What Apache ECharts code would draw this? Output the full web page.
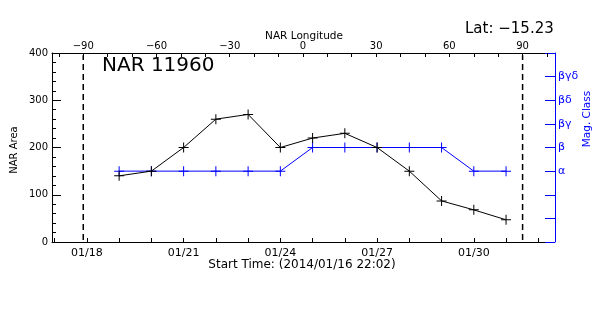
<!DOCTYPE html>
<html><head><meta charset="utf-8">
<script src="https://cdn.jsdelivr.net/npm/echarts@6/dist/echarts.min.js"></script>
<style>html,body{margin:0;padding:0;background:#fff}#c{width:600px;height:315px}</style>
</head><body><div id="c"></div>
<script>
// Observation days (day of January 2014)
const days = [19, 20, 21, 22, 23, 24, 25, 26, 27, 28, 29, 30, 31];
const narArea = [140, 150, 200, 260, 270, 200, 220, 230, 200, 150, 87, 68, 47];
const magClass = ['α','α','α','α','α','α','β','β','β','β','β','α','α'];
const magClassLevels = ['', '', '', 'α', 'β', 'βγ', 'βδ', 'βγδ', ''];
const dateLabelDays = [18, 21, 24, 27, 30];
const dateTickDays = [17, 18, 19, 20, 21, 22, 23, 24, 25, 26, 27, 28, 29, 30, 31, 32];
const lonTicks = [-100, -90, -80, -70, -60, -50, -40, -30, -20, -10, 0, 10, 20, 30, 40, 50, 60, 70, 80, 90, 100];
const lonLabels = [-90, -60, -30, 0, 30, 60, 90];
const limbLongitudes = [-90, 90];
const startDay = 16 + (22 + 2 / 60) / 24;
const endDay = 32.27;
const lonMin = -102.8, lonMax = 100;
const regionName = 'NAR 11960';
const latText = 'Lat: \u221215.23';
const startText = 'Start Time: (2014/01/16 22:02)';

const FONT = 'DejaVu Sans';
const BLUE = '#0000ff';
const CROSS = 'path://M4.5,0h1v4.5h4.5v1h-4.5v4.5h-1v-4.5h-4.5v-1h4.5z';
const fmtMinus = v => String(v).replace('-', '\u2212');

const chart = echarts.init(document.getElementById('c'), null, {renderer: 'canvas'});

const limbSeries = limbLongitudes.map(lon => ({
  type: 'line', xAxisIndex: 1, yAxisIndex: 0, silent: true,
  data: [[lon, 4], [lon, 395]], symbol: 'none',
  lineStyle: {color: '#000', width: 1.5, type: [6, 4]}, z: 1
}));

chart.setOption({
  animation: false,
  backgroundColor: '#fff',
  textStyle: {fontFamily: FONT},
  grid: {left: 52, right: 53, top: 53, bottom: 73, containLabel: false},
  xAxis: [{
    type: 'value', position: 'bottom', min: startDay, max: endDay,
    axisLine: {show: true, onZero: false, lineStyle: {color: '#000', width: 1}},
    axisTick: {show: true, inside: true, length: 4, customValues: dateTickDays, lineStyle: {color: '#000'}},
    axisLabel: {show: true, customValues: dateLabelDays, margin: 6, color: '#000', fontSize: 11, fontFamily: FONT,
      formatter: v => '01/' + String(Math.round(v)).padStart(2, '0')},
    splitLine: {show: false}
  }, {
    type: 'value', position: 'top', min: lonMin, max: lonMax,
    axisLine: {show: true, onZero: false, lineStyle: {color: '#000', width: 1}},
    axisTick: {show: true, inside: true, length: 4, customValues: lonTicks, lineStyle: {color: '#000'}},
    axisLabel: {show: true, customValues: lonLabels, margin: 2, color: '#000', fontSize: 10, fontFamily: FONT,
      formatter: fmtMinus},
    splitLine: {show: false}
  }],
  yAxis: [{
    type: 'value', position: 'left', min: 0, max: 400, interval: 100,
    axisLine: {show: true, onZero: false, lineStyle: {color: '#000', width: 1}},
    axisTick: {show: true, inside: true, length: 9, lineStyle: {color: '#000'}},
    minorTick: {show: true, splitNumber: 5, length: 4, lineStyle: {color: '#000'}},
    axisLabel: {margin: 4, color: '#000', fontSize: 10, fontFamily: FONT},
    splitLine: {show: false}
  }, {
    type: 'value', position: 'right', offset: 8, min: 0, max: 8, interval: 1,
    axisLine: {show: true, onZero: false, lineStyle: {color: BLUE, width: 1}},
    axisTick: {show: true, inside: true, length: 10, lineStyle: {color: BLUE}},
    axisLabel: {margin: 3, color: BLUE, fontSize: 11, fontFamily: FONT, formatter: v => magClassLevels[v] || ''},
    splitLine: {show: false}
  }],
  series: [
    ...limbSeries,
    {
      type: 'line', xAxisIndex: 0, yAxisIndex: 1, z: 2,
      data: days.map((d, i) => [d, magClassLevels.indexOf(magClass[i])]),
      symbol: CROSS, symbolSize: 10,
      itemStyle: {color: BLUE},
      lineStyle: {color: BLUE, width: 1}
    },
    {
      type: 'line', xAxisIndex: 0, yAxisIndex: 0, z: 3,
      data: days.map((d, i) => [d, narArea[i]]),
      symbol: CROSS, symbolSize: 10,
      itemStyle: {color: '#000'},
      lineStyle: {color: '#000', width: 1}
    }
  ],
  graphic: [
    {type: 'text', left: 102, top: 56, style: {text: regionName, font: '20px "DejaVu Sans"', fill: '#000'}},
    {type: 'text', left: 465, top: 22, style: {text: latText, font: '15px "DejaVu Sans"', fill: '#000'}},
    {type: 'text', x: 304, y: 36, style: {text: 'NAR Longitude', font: '10.5px "DejaVu Sans"', fill: '#000', align: 'center', verticalAlign: 'middle'}},
    {type: 'text', x: 302, y: 265, style: {text: startText, font: '12px "DejaVu Sans"', fill: '#000', align: 'center', verticalAlign: 'middle'}},
    {type: 'text', x: 14, y: 150, rotation: Math.PI / 2, style: {text: 'NAR Area', font: '10px "DejaVu Sans"', fill: '#000', align: 'center', verticalAlign: 'middle'}},
    {type: 'text', x: 587, y: 119, rotation: Math.PI / 2, style: {text: 'Mag. Class', font: '10.5px "DejaVu Sans"', fill: BLUE, align: 'center', verticalAlign: 'middle'}}
  ]
});
</script>
</body></html>
